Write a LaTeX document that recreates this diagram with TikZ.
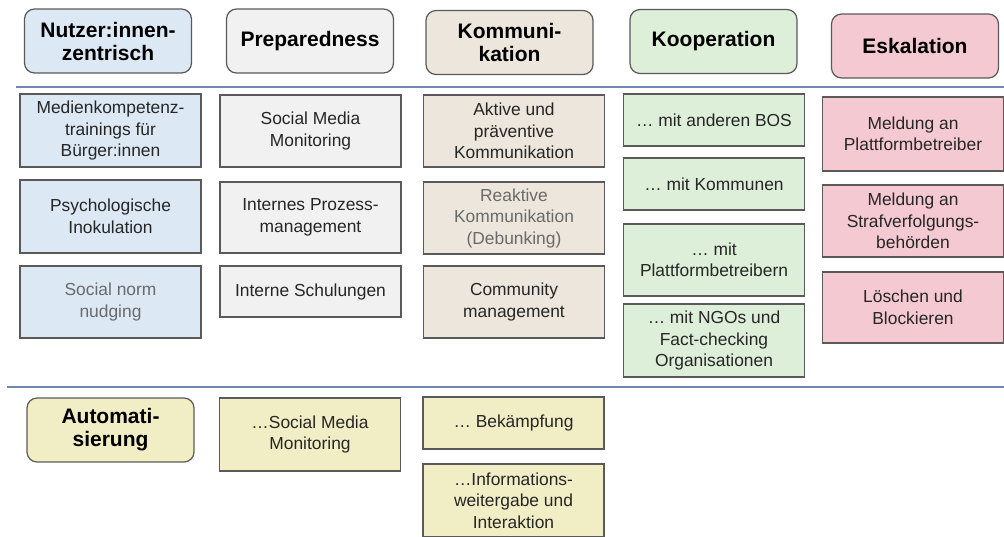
\documentclass[tikz,border=0pt]{standalone}
\usepackage{fontspec}
\setmainfont{Liberation Sans}

\definecolor{userblue}{HTML}{DCE8F4}
\definecolor{prepgray}{HTML}{F1F1F1}
\definecolor{commbeige}{HTML}{ECE6DC}
\definecolor{coopgreen}{HTML}{DDEED9}
\definecolor{escpink}{HTML}{F5C9D2}
\definecolor{autoyellow}{HTML}{F1EEC6}
\definecolor{boxline}{HTML}{5A5A5A}
\definecolor{textdark}{HTML}{262626}
\definecolor{textgray}{HTML}{6A6A6A}
\definecolor{rulecol}{HTML}{6F87B3}

\begin{document}
\begin{tikzpicture}[
    x=1pt, y=-1pt,
    box/.style={draw=boxline, line width=1.2pt, align=center, minimum width=181pt, inner sep=2pt, text=textdark, font=\fontsize{17.4}{21.5}\selectfont},
    head/.style={box, rounded corners=10pt, minimum width=167pt, minimum height=64pt, text=black, font=\fontsize{21}{23}\selectfont\bfseries},
    rule/.style={draw=rulecol, line width=1.5pt}
]
\useasboundingbox (0,0) rectangle (1004,536);

% headers
\node[head, fill=userblue] (user) at (108,41) {Nutzer:innen-\\zentrisch};
\node[head, fill=prepgray] (prep) at (310,41) {Preparedness};
\node[head, fill=commbeige] (comm) at (509.5,42.5) {Kommuni-\\kation};
\node[head, fill=coopgreen] (coop) at (713.5,41.5) {Kooperation};
\node[head, fill=escpink] (esc) at (915,46) {Eskalation};

\draw[rule] (16,87) -- (1004,87);

% Nutzer:innen-zentrisch
\node[box, fill=userblue, minimum height=73pt] (media) at (110.5,130.5) {Medienkompetenz-\\trainings für\\Bürger:innen};
\node[box, fill=userblue, minimum height=73pt] (psych) at (110.5,216.5) {Psychologische\\Inokulation};
\node[box, fill=userblue, minimum height=72pt, text=textgray] (nudge) at (110.5,302) {Social norm\\nudging};

% Preparedness
\node[box, fill=prepgray, minimum height=72pt] (smm) at (310.5,131) {Social Media\\Monitoring};
\node[box, fill=prepgray, minimum height=71pt] (process) at (310.5,217.5) {Internes Prozess-\\management};
\node[box, fill=prepgray, minimum height=51pt] (training) at (310.5,291.5) {Interne Schulungen};

% Kommunikation
\node[box, fill=commbeige, minimum height=72pt] (active) at (514,131) {Aktive und\\präventive\\Kommunikation};
\node[box, fill=commbeige, minimum height=72pt, text=textgray] (reactive) at (514,218) {Reaktive\\Kommunikation\\(Debunking)};
\node[box, fill=commbeige, minimum height=72pt] (community) at (514,302) {Community\\management};

% Kooperation
\node[box, fill=coopgreen, minimum height=52pt] (bos) at (714,120) {… mit anderen BOS};
\node[box, fill=coopgreen, minimum height=52pt] (towns) at (714,184) {… mit Kommunen};
\node[box, fill=coopgreen, minimum height=72pt] (platforms) at (714,260) {… mit\\Plattformbetreibern};
\node[box, fill=coopgreen, minimum height=73pt] (ngos) at (714,340.5) {… mit NGOs und\\Fact-checking\\Organisationen};

% Eskalation
\node[box, fill=escpink, minimum height=74pt] (report) at (913,134) {Meldung an\\Plattformbetreiber};
\node[box, fill=escpink, minimum height=72pt] (police) at (913,221) {Meldung an\\Strafverfolgungs-\\behörden};
\node[box, fill=escpink, minimum height=71pt] (delete) at (913,307.5) {Löschen und\\Blockieren};

\draw[rule] (7,387) -- (1004,387);

% Automatisierung
\node[head, fill=autoyellow] (auto) at (110.5,430) {Automati-\\sierung};
\node[box, fill=autoyellow, minimum height=73pt] (autosmm) at (310,434.5) {…Social Media\\Monitoring};
\node[box, fill=autoyellow, minimum height=52pt] (fight) at (513.5,423) {… Bekämpfung};
\node[box, fill=autoyellow, minimum height=73pt] (info) at (513.5,500.5) {…Informations-\\weitergabe und\\Interaktion};
\end{tikzpicture}
\end{document}
